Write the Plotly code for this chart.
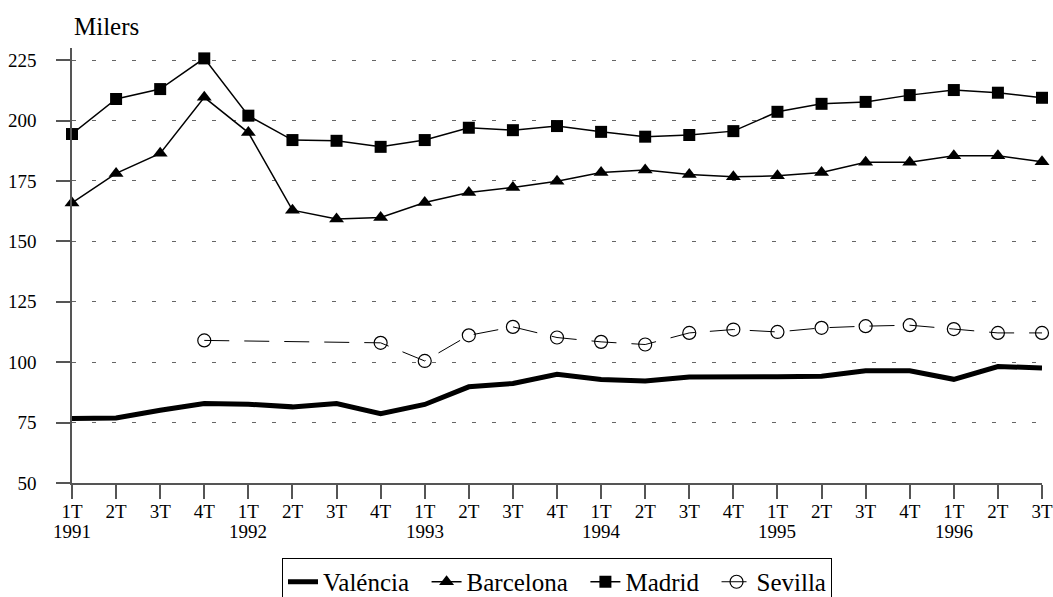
import plotly.graph_objects as go

quarters = ["1T", "2T", "3T", "4T"]
years = ["1991", "1992", "1993", "1994", "1995", "1996"]
n_points = 23
quarter_labels = [quarters[i % 4] for i in range(n_points)]
year_positions = [i for i in range(n_points) if i % 4 == 0]

valencia = [76.7, 76.9, 80.1, 82.9, 82.6, 81.5, 82.9, 78.7, 82.5, 89.8, 91.2, 95.0,
            92.8, 92.2, 93.9, 93.7, 94.0, 94.2, 96.4, 96.4, 92.9, 98.2, 97.6]
barcelona = [165.9, 178.1, 186.4, 209.6, 195.0, 162.9, 159.2, 159.9, 166.1, 170.2, 172.3, 174.9,
             178.5, 179.5, 177.7, 176.7, 177.1, 178.5, 182.7, 182.7, 185.4, 185.4, 182.9]
madrid = [194.4, 208.9, 213.0, 225.7, 202.0, 191.9, 191.6, 189.1, 191.9, 197.0, 196.0, 197.7,
          195.3, 193.3, 194.0, 195.6, 203.6, 206.9, 207.7, 210.5, 212.6, 211.5, 209.4]
sevilla = [None, None, None, 109.0, None, None, None, 108.0, 100.5, 111.1, 114.6, 110.2,
           108.4, 107.3, 112.1, 113.5, 112.5, 114.2, 114.9, 115.3, 113.7, 112.1, 112.1]

x = list(range(n_points))
FONT = "Liberation Serif"
PAD = "\u00a0\u00a0"  # extra spacing after legend entries

fig = go.Figure()
fig.add_trace(go.Scatter(x=x, y=valencia, name="Valéncia" + PAD, mode="lines",
                         line=dict(color="black", width=5), cliponaxis=False))
fig.add_trace(go.Scatter(x=x, y=barcelona, name="Barcelona" + PAD, mode="lines+markers",
                         line=dict(color="black", width=1.5),
                         marker=dict(symbol="triangle-up", size=13, color="black"),
                         cliponaxis=False))
fig.add_trace(go.Scatter(x=x, y=madrid, name="Madrid" + PAD, mode="lines+markers",
                         line=dict(color="black", width=1.5),
                         marker=dict(symbol="square", size=12, color="black"),
                         cliponaxis=False))
fig.add_trace(go.Scatter(x=x, y=sevilla, name="Sevilla", mode="lines+markers",
                         connectgaps=True,
                         line=dict(color="black", width=1, dash="25px,15px"),
                         marker=dict(symbol="circle-open", size=13, color="black",
                                     line=dict(width=1.2, color="black")),
                         cliponaxis=False))

annotations = [dict(text="Milers", xref="paper", yref="paper", x=0.0, y=1.0,
                    xanchor="left", yanchor="bottom", yshift=6, showarrow=False,
                    font=dict(size=25, family=FONT))]
for pos in year_positions:
    annotations.append(dict(text=years[pos // 4], xref="x", yref="paper", x=pos, y=0,
                            xanchor="center", yanchor="top", yshift=-37, showarrow=False,
                            borderpad=0, font=dict(size=19, family=FONT)))

fig.update_layout(
    width=1053, height=597,
    margin=dict(l=72, r=11, t=48, b=114, autoexpand=False),
    paper_bgcolor="white", plot_bgcolor="white",
    font=dict(family=FONT, size=19, color="black"),
    showlegend=True,
    legend=dict(orientation="h", x=0.5, xanchor="center", y=-0.1724, yanchor="top",
                bordercolor="black", borderwidth=1, font=dict(size=25, family=FONT),
                itemwidth=30, tracegroupgap=0),
    annotations=annotations,
)
fig.update_xaxes(range=[0, 22], tickvals=x, ticktext=quarter_labels, automargin=False,
                 showgrid=False, zeroline=False, showline=True, linecolor="#555",
                 linewidth=1.5, ticks="outside", ticklen=14, tickcolor="#555",
                 tickwidth=1.5, ticklabelstandoff=-4, tickfont=dict(size=19, family=FONT))
fig.update_yaxes(range=[50, 230], tickvals=[50, 75, 100, 125, 150, 175, 200, 225],
                 automargin=False,
                 showgrid=True, gridcolor="#666", griddash="4px,16px", gridwidth=1,
                 zeroline=False, showline=True, linecolor="#555", linewidth=1.5,
                 ticks="outside", ticklen=14, tickcolor="#555", tickwidth=1.5,
                 ticklabelstandoff=16, tickfont=dict(size=19, family=FONT))

fig.write_html("out.html", config={"displayModeBar": False},
               post_script="document.body.style.margin='0';")
